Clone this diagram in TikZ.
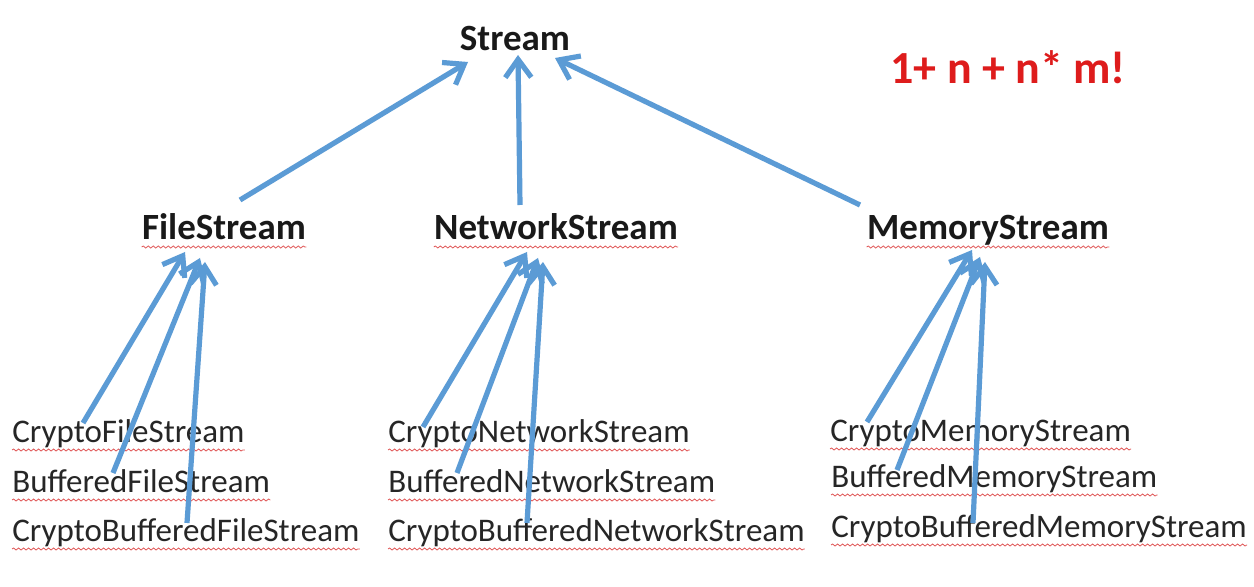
\documentclass[tikz,border=0pt]{standalone}
\usepackage{fontspec}
\setmainfont{Carlito}
\usetikzlibrary{arrows.meta,calc,decorations.pathmorphing}
\definecolor{arrowblue}{RGB}{91,155,213}
\definecolor{formulared}{RGB}{222,28,28}
\definecolor{spellred}{RGB}{225,90,90}
\tikzset{
  mainlbl/.style={inner sep=0pt, anchor=base, font=\fontsize{18.5pt}{20pt}\selectfont\bfseries, text=black!90},
  sublbl/.style={inner sep=0pt, anchor=base west, font=\fontsize{16.5pt}{18pt}\selectfont, text=black!85},
  inh/.style={draw=arrowblue, line width=2.6pt, -{Straight Barb[length=9pt,width=13pt,line width=2.6pt]}, shorten <=0pt},
  spell/.style={draw=spellred, line width=0.4pt, decorate, decoration={snake, amplitude=0.5pt, segment length=2.5pt}}
}
\begin{document}
\begin{tikzpicture}[x=0.5pt,y=-0.5pt]
\useasboundingbox (0,0) rectangle (1254,587);
\fill[white] (0,0) rectangle (1254,587);

% top
\node[mainlbl] (st) at (515,51) {Stream};
\node[inner sep=0pt, anchor=base west, font=\fontsize{23pt}{25pt}\selectfont\bfseries, text=formulared] (fm) at (890,84) {1+ n + n* m!};

% middle
\node[mainlbl] (fs) at (224,240) {FileStream};
\node[mainlbl] (ns) at (556,240) {NetworkStream};
\node[mainlbl] (ms) at (988,240) {MemoryStream};

% bottom
\node[sublbl] (cfs) at (12,443) {CryptoFileStream};
\node[sublbl] (bfs) at (12,493) {BufferedFileStream};
\node[sublbl] (cbfs) at (12,542) {CryptoBufferedFileStream};
\node[sublbl] (cns) at (388,443) {CryptoNetworkStream};
\node[sublbl] (bns) at (388,493) {BufferedNetworkStream};
\node[sublbl] (cbns) at (388,542) {CryptoBufferedNetworkStream};
\node[sublbl] (cms) at (830,442) {CryptoMemoryStream};
\node[sublbl] (bms) at (831,488) {BufferedMemoryStream};
\node[sublbl] (cbms) at (831,538) {CryptoBufferedMemoryStream};

% spell-check underlines
\foreach \n in {fs,ns,ms,cfs,bfs,cbfs,cns,bns,cbns,cms,bms,cbms}{
  \draw[spell] ($(\n.base west)+(0,7)$) -- ($(\n.base east)+(0,7)$);
}

% arrows to Stream
\draw[inh] ($(fs.base)+(16,-40)$) -- ($(st.base)+(-47,11)$);
\draw[inh] ($(ns.base)+(-36,-35)$) -- ($(st.base)+(3,4)$);
\draw[inh] ($(ms.base)+(-128,-35)$) -- ($(st.base)+(40,7)$);

% arrows to FileStream
\draw[inh] ($(cfs.base west)+(71,-20)$) -- ($(fs.base)+(-39,12)$);
\draw[inh] ($(bfs.base west)+(101,-20)$) -- ($(fs.base)+(-24,18)$);
\draw[inh] ($(cbfs.base west)+(175,-19)$) -- ($(fs.base)+(-19,22)$);

% arrows to NetworkStream
\draw[inh] ($(cns.base west)+(35,-16)$) -- ($(ns.base)+(-29,12)$);
\draw[inh] ($(bns.base west)+(69,-20)$) -- ($(ns.base)+(-18,18)$);
\draw[inh] ($(cbns.base west)+(139,-19)$) -- ($(ns.base)+(-13,22)$);

% arrows to MemoryStream
\draw[inh] ($(cms.base west)+(37,-20)$) -- ($(ms.base)+(-16,10)$);
\draw[inh] ($(bms.base west)+(66,-18)$) -- ($(ms.base)+(-8,17)$);
\draw[inh] ($(cbms.base west)+(142,-15)$) -- ($(ms.base)+(-3,22)$);
\end{tikzpicture}
\end{document}
